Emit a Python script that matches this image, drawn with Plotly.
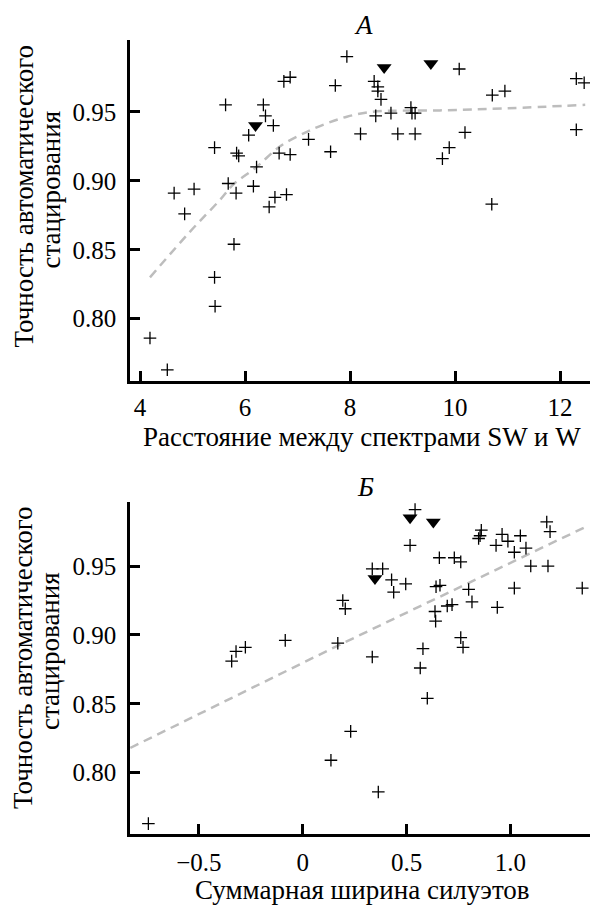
import plotly.graph_objects as go

# ---------- Panel A data ----------
a_x = [7.94, 6.74, 6.86, 7.72, 5.63, 6.35, 6.39, 6.54, 6.07, 7.21, 5.42, 5.84, 5.88,
       6.65, 6.86, 7.63, 6.22, 5.68, 6.16, 4.65, 5.03, 5.83, 6.57, 6.79, 6.46, 4.85,
       5.79, 5.42, 5.43, 4.19, 4.52, 10.08, 8.46, 8.53, 8.53, 8.59, 12.31, 12.46,
       10.71, 10.95, 8.49, 8.78, 9.16, 9.18, 9.24, 8.20, 8.91, 9.24, 10.19, 12.31,
       9.89, 9.76, 10.70]
a_y = [0.990, 0.972, 0.975, 0.969, 0.955, 0.955, 0.947, 0.940, 0.933, 0.930, 0.924,
       0.920, 0.918, 0.920, 0.919, 0.921, 0.910, 0.898, 0.896, 0.891, 0.894, 0.891,
       0.888, 0.890, 0.881, 0.876, 0.854, 0.830, 0.809, 0.786, 0.763, 0.981, 0.972,
       0.968, 0.965, 0.959, 0.974, 0.971, 0.962, 0.965, 0.947, 0.949, 0.953, 0.949,
       0.949, 0.934, 0.934, 0.934, 0.935, 0.937, 0.924, 0.916, 0.883]
a_tri_x = [6.20, 8.65, 9.54]
a_tri_y = [0.940, 0.982, 0.985]
a_fit_x = [4.19, 4.95, 5.52, 5.77, 6.22, 6.67, 7.18, 7.56, 7.94, 8.44, 9.71, 10.98, 12.48]
a_fit_y = [0.830, 0.863, 0.886, 0.897, 0.910, 0.925, 0.9355, 0.9416, 0.9464, 0.950,
           0.951, 0.9525, 0.955]

# ---------- Panel B data ----------
b_x = [-0.342, -0.321, -0.276, -0.084, 0.193, 0.205, 0.169, 0.541, 0.517, 0.335, 0.385,
       0.428, 0.496, 0.438, 0.658, 0.730, 0.761, 0.860, 0.854, 0.847, 0.960, 0.988,
       0.931, 1.048, 1.019, 1.075, 1.175, 1.191, 1.098, 1.181, 1.346, 1.019, 0.642,
       0.661, 0.799, 0.815, 0.937, 0.696, 0.719, 0.637, 0.640, 0.761, 0.772, 0.579,
       0.335, 0.566, 0.136, -0.743, 0.231, 0.600, 0.364]
b_y = [0.881, 0.888, 0.891, 0.896, 0.925, 0.919, 0.894, 0.991, 0.965, 0.948, 0.948,
       0.940, 0.937, 0.931, 0.956, 0.956, 0.953, 0.976, 0.972, 0.970, 0.973, 0.968,
       0.965, 0.972, 0.960, 0.963, 0.982, 0.975, 0.950, 0.950, 0.934, 0.934, 0.935,
       0.936, 0.933, 0.924, 0.920, 0.921, 0.922, 0.917, 0.910, 0.898, 0.891, 0.890,
       0.884, 0.876, 0.809, 0.763, 0.830, 0.854, 0.786]
b_tri_x = [0.517, 0.629, 0.348]
b_tri_y = [0.985, 0.982, 0.941]
b_fit_x = [-0.83, 0.18, 1.37]
b_fit_y = [0.818, 0.893, 0.979]

a_xticks = [4, 6, 8, 10, 12]
b_xticks = [-0.5, 0, 0.5, 1.0]
b_xtick_text = ["\u22120.5", "0", "0.5", "1.0"]
yticks = [0.80, 0.85, 0.90, 0.95]
ytick_text = ["0.80", "0.85", "0.90", "0.95"]

y_title_1 = "Точность автоматического"
y_title_2 = "стацирования"
a_x_title = "Расстояние между спектрами SW и W"
b_x_title = "Суммарная ширина силуэтов"

FONT = "Liberation Serif, Times New Roman, serif"
W, H = 590, 906

fig = go.Figure()

def add_panel(xs, ys, tx, ty, fx, fy, xa, ya, shape):
    fig.add_trace(go.Scatter(x=fx, y=fy, mode="lines", xaxis=xa, yaxis=ya,
                             line=dict(color="#bdbdbd", width=2.5, dash="9px,6px", shape=shape),
                             showlegend=False, hoverinfo="skip"))
    fig.add_trace(go.Scatter(x=xs, y=ys, mode="markers", xaxis=xa, yaxis=ya,
                             marker=dict(symbol="cross-thin", size=9, color="black",
                                         line=dict(color="black", width=1.3)),
                             showlegend=False))
    fig.add_trace(go.Scatter(x=tx, y=ty, mode="markers", xaxis=xa, yaxis=ya,
                             marker=dict(symbol="triangle-down", size=13, color="black",
                                         line=dict(width=0)),
                             showlegend=False))

add_panel(a_x, a_y, a_tri_x, a_tri_y, a_fit_x, a_fit_y, "x", "y", "spline")
add_panel(b_x, b_y, b_tri_x, b_tri_y, b_fit_x, b_fit_y, "x2", "y2", "linear")

def px_x(p):
    return p / W

def px_y(p):
    return 1 - p / H

axis_common = dict(showgrid=False, zeroline=False, showline=True, linecolor="black",
                   linewidth=2.5, ticks="inside", ticklen=10, tickwidth=2.5,
                   tickcolor="black", mirror=False,
                   tickfont=dict(family=FONT, size=25, color="black"))

fig.update_layout(
    width=W, height=H,
    margin=dict(l=0, r=0, t=0, b=0),
    paper_bgcolor="white", plot_bgcolor="white",
    xaxis=dict(axis_common, domain=[px_x(130), 1.0], range=[3.8095, 12.571],
               tickvals=a_xticks, anchor="y", ticklabelstandoff=3),
    yaxis=dict(axis_common, domain=[px_y(380.7), px_y(40)], range=[0.7551, 1.0020],
               tickvals=yticks, ticktext=ytick_text, anchor="x", ticklabelstandoff=6),
    xaxis2=dict(axis_common, domain=[px_x(130), 1.0], range=[-0.8315, 1.3833],
                tickvals=b_xticks, ticktext=b_xtick_text, anchor="y2", ticklabelstandoff=5),
    yaxis2=dict(axis_common, domain=[px_y(833.7), px_y(501.7)], range=[0.7557, 0.9967],
                tickvals=yticks, ticktext=ytick_text, anchor="x2", ticklabelstandoff=6),
)

ann_font = dict(family=FONT, size=27, color="black")
annotations = [
    dict(text=y_title_1, x=px_x(23), y=px_y(196.5), textangle=-90),
    dict(text=y_title_2, x=px_x(50), y=px_y(189.5), textangle=-90),
    dict(text=y_title_1, x=px_x(23), y=px_y(658), textangle=-90),
    dict(text=y_title_2, x=px_x(50), y=px_y(651), textangle=-90),
    dict(text=a_x_title, x=px_x(362), y=px_y(437)),
    dict(text=b_x_title, x=px_x(362), y=px_y(890)),
    dict(text="<i>А</i>", x=px_x(363), y=px_y(25)),
    dict(text="<i>Б</i>", x=px_x(365), y=px_y(487)),
]
for a in annotations:
    a.update(xref="paper", yref="paper", showarrow=False, xanchor="center",
             yanchor="middle", font=ann_font)
fig.update_layout(annotations=annotations)

fig.write_html("out.html", config={"displayModeBar": False},
               post_script="document.body.style.margin='0';document.body.style.overflow='hidden';")
